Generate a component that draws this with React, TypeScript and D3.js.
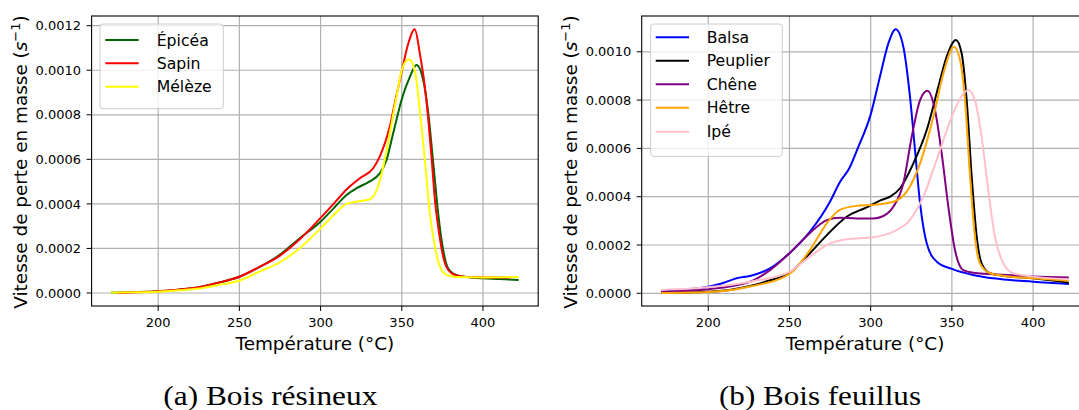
import React from "react";
import * as d3 from "d3";

// ---------- Data (Température °C, vitesse de perte en masse s^-1) ----------
const epiceaT = [171, 185, 200, 212, 225, 237, 250, 262, 275, 287, 300, 308, 316, 322, 330, 336.4, 340.6, 344.7, 350.4, 355, 359.1, 363.2, 366.3, 369.4, 372.4, 375.5, 378.6, 383.7, 390, 400, 410, 422];
const epiceaV = [0.000002, 0.000004, 0.000008, 0.000015, 0.000026, 0.000046, 0.000073, 0.000115, 0.000172, 0.000245, 0.00032, 0.00038, 0.00044, 0.00047, 0.0005, 0.000537, 0.000597, 0.000717, 0.00088, 0.00097, 0.001024, 0.000956, 0.000807, 0.000582, 0.000358, 0.000193, 0.00011, 0.00008, 0.000072, 0.000066, 0.000063, 0.000058];

const sapinT = [175, 190, 200, 212, 225, 237, 250, 262, 275, 287, 300, 308, 316, 324.2, 332.4, 336.4, 342.6, 346.5, 350.4, 354, 358, 361.1, 364.2, 366.3, 368.3, 370.4, 373, 375.5, 378.6, 383, 390, 400, 417];
const sapinV = [0, 0.000004, 0.000008, 0.000015, 0.000026, 0.000046, 0.000073, 0.000116, 0.000168, 0.00024, 0.000337, 0.0004, 0.000465, 0.000515, 0.00056, 0.000612, 0.000747, 0.00088, 0.001009, 0.00112, 0.001184, 0.001076, 0.000926, 0.00078, 0.000612, 0.000418, 0.000268, 0.000163, 0.000103, 0.00008, 0.000072, 0.00007, 0.000069];

const melezeT = [171, 185, 200, 212, 225, 237, 250, 262, 275, 287, 300, 308, 316, 322, 330, 334.5, 338.6, 342.6, 346.7, 350.4, 354.4, 358.1, 361.1, 364.2, 367.3, 370.4, 373.5, 377.6, 383.7, 400, 422];
const melezeV = [0.000002, 0.000003, 0.000006, 0.000012, 0.00002, 0.000036, 0.000055, 0.000095, 0.000138, 0.0002, 0.00029, 0.00035, 0.0004, 0.00041, 0.00042, 0.000462, 0.000567, 0.000717, 0.00088, 0.00101, 0.001049, 0.000994, 0.00082, 0.000597, 0.000359, 0.000208, 0.000118, 0.000081, 0.000072, 0.00007, 0.000072];

const balsaT = [171, 185, 200, 210, 217.5, 225.7, 238, 250, 262.6, 275, 281, 287, 292, 300.2, 305.7, 310.9, 315.4, 320.1, 324.2, 327.3, 330.4, 334.5, 340.7, 350.4, 363, 375.5, 400, 422];
const balsaV = [0.000007, 0.000015, 0.000027, 0.000045, 0.000062, 0.000072, 0.000103, 0.000166, 0.000255, 0.00038, 0.00046, 0.00052, 0.0006, 0.000745, 0.000897, 0.001035, 0.001093, 0.001021, 0.000814, 0.000593, 0.000373, 0.000207, 0.000131, 0.0001, 0.000076, 0.000062, 0.000048, 0.000039];

const peuplierT = [171, 200, 225.7, 238, 250, 262.6, 273, 285.2, 297.5, 306, 312, 318.1, 326.3, 334.5, 341.7, 346.8, 352.5, 356, 359.1, 362.2, 365.3, 368.3, 373.5, 385, 400, 422];
const peuplierV = [0.000002, 0.000006, 0.00003, 0.000054, 0.000084, 0.000166, 0.000241, 0.000317, 0.000356, 0.000385, 0.0004, 0.000435, 0.000538, 0.000676, 0.000856, 0.00098, 0.001049, 0.000994, 0.0008, 0.000483, 0.000234, 0.000124, 0.000083, 0.00007, 0.000062, 0.000044];

const cheneT = [171, 200, 225.7, 238, 250, 262.6, 273, 281.1, 291.3, 301.6, 307.8, 314, 320.1, 325.3, 330.4, 334.9, 339.6, 343.7, 347.8, 351.9, 357, 363.2, 383.7, 404, 422];
const cheneV = [0.000007, 0.000017, 0.000048, 0.000096, 0.000166, 0.00025, 0.000303, 0.000313, 0.00031, 0.00031, 0.00032, 0.000359, 0.000455, 0.000649, 0.0008, 0.000839, 0.000759, 0.00058, 0.000359, 0.000179, 0.000096, 0.000085, 0.000076, 0.000069, 0.000065];

const hetreT = [171, 200, 225.7, 250, 262.6, 273, 281, 291.3, 301.6, 314, 322.2, 330.4, 338.6, 344.8, 351.3, 355, 358.1, 361.2, 364.2, 367.3, 373.5, 385, 400, 422];
const hetreV = [0.000001, 0.000005, 0.000028, 0.00008, 0.000179, 0.00029, 0.000345, 0.000362, 0.000366, 0.000379, 0.000421, 0.000538, 0.000731, 0.000911, 0.001021, 0.000966, 0.0008, 0.000483, 0.000234, 0.000124, 0.000083, 0.00007, 0.000062, 0.000052];

const ipeT = [171, 200, 225.7, 250, 262.6, 273, 285.2, 301.6, 314, 324.2, 332.4, 340.6, 350.8, 356, 360.1, 364.2, 368.3, 372.4, 376.5, 381.7, 387.8, 400, 422];
const ipeV = [0.000014, 0.000025, 0.000048, 0.000089, 0.000152, 0.0002, 0.000224, 0.000232, 0.000255, 0.000304, 0.0004, 0.000552, 0.000745, 0.000817, 0.000842, 0.0008, 0.000649, 0.000428, 0.000234, 0.000124, 0.000083, 0.000069, 0.000058];

const xTicks = [200, 250, 300, 350, 400];
const yTicksLeft = [0, 0.0002, 0.0004, 0.0006, 0.0008, 0.001, 0.0012];
const yTicksRight = [0, 0.0002, 0.0004, 0.0006, 0.0008, 0.001];

const resineuxNames = ["Épicéa", "Sapin", "Mélèze"];
const feuillusNames = ["Balsa", "Peuplier", "Chêne", "Hêtre", "Ipé"];

type Series = { name: string; t: number[]; v: number[]; color: string };

const leftSeries: Series[] = [
  { name: resineuxNames[0], t: epiceaT, v: epiceaV, color: "#006400" },
  { name: resineuxNames[1], t: sapinT, v: sapinV, color: "#ff0000" },
  { name: resineuxNames[2], t: melezeT, v: melezeV, color: "#ffff00" },
];
const rightSeries: Series[] = [
  { name: feuillusNames[0], t: balsaT, v: balsaV, color: "#0000ff" },
  { name: feuillusNames[1], t: peuplierT, v: peuplierV, color: "#000000" },
  { name: feuillusNames[2], t: cheneT, v: cheneV, color: "#800080" },
  { name: feuillusNames[3], t: hetreT, v: hetreV, color: "#ffa500" },
  { name: feuillusNames[4], t: ipeT, v: ipeV, color: "#ffc0cb" },
];

const FONT = "DejaVu Sans, sans-serif";

type PanelProps = {
  x0: number;
  x1: number;
  yDomain: [number, number];
  yTicks: number[];
  series: Series[];
  legend: { x: number; y: number; w: number; rowY: number[]; lineX0: number; lineX1: number; textX: number };
  yLabelX: number;
  caption: string;
  captionX: number;
  captionW: number;
};

function Panel(p: PanelProps) {
  const top = 16;
  const bottom = 306;
  const x = d3.scaleLinear().domain([159, 434]).range([p.x0, p.x1]);
  const y = d3.scaleLinear().domain(p.yDomain).range([bottom, top]);
  const line = d3
    .line<[number, number]>()
    .x((d) => x(d[0]))
    .y((d) => y(d[1]))
    .curve(d3.curveMonotoneX);
  const fmt = d3.format(".4f");
  const midX = (p.x0 + p.x1) / 2;
  const midY = (top + bottom) / 2;
  const lg = p.legend;
  const lgH = lg.rowY[lg.rowY.length - 1] - lg.rowY[0] + 38;
  return (
    <g>
      {/* grid */}
      {xTicks.map((t) => (
        <line key={"gx" + t} x1={x(t)} x2={x(t)} y1={top} y2={bottom} stroke="#b0b0b0" strokeWidth={1.2} />
      ))}
      {p.yTicks.map((t) => (
        <line key={"gy" + t} x1={p.x0} x2={p.x1} y1={y(t)} y2={y(t)} stroke="#b0b0b0" strokeWidth={1.2} />
      ))}
      {/* curves */}
      {p.series.map((s) => (
        <path
          key={s.name}
          d={line(s.t.map((t, i) => [t, s.v[i]] as [number, number])) || ""}
          fill="none"
          stroke={s.color}
          strokeWidth={2}
          strokeLinejoin="round"
        />
      ))}
      {/* frame */}
      <rect x={p.x0} y={top} width={p.x1 - p.x0} height={bottom - top} fill="none" stroke="#000" strokeWidth={1.1} />
      {/* x ticks */}
      {xTicks.map((t) => (
        <g key={"tx" + t}>
          <line x1={x(t)} x2={x(t)} y1={bottom} y2={bottom + 5} stroke="#000" strokeWidth={1} />
          <text x={x(t)} y={326.5} textAnchor="middle" fontFamily={FONT} fontSize={13} fill="#000">
            {t}
          </text>
        </g>
      ))}
      {/* y ticks */}
      {p.yTicks.map((t) => (
        <g key={"ty" + t}>
          <line x1={p.x0 - 5} x2={p.x0} y1={y(t)} y2={y(t)} stroke="#000" strokeWidth={1} />
          <text x={p.x0 - 10.5} y={y(t)} dy="0.36em" textAnchor="end" fontFamily={FONT} fontSize={13} fill="#000">
            {fmt(t)}
          </text>
        </g>
      ))}
      {/* axis labels */}
      <text x={midX} y={350} textAnchor="middle" fontFamily={FONT} fontSize={18.4} fill="#000">
        Température (°C)
      </text>
      <text
        transform={`translate(${p.yLabelX},${midY + 1}) rotate(-90)`}
        textAnchor="middle"
        fontFamily={FONT}
        fontSize={18.4}
        fill="#000"
      >
        Vitesse de perte en masse (<tspan fontStyle="italic">s</tspan>
        <tspan dy={-7} fontSize={13}>−1</tspan>
        <tspan dy={7}>)</tspan>
      </text>
      {/* legend */}
      <rect x={lg.x} y={lg.y} width={lg.w} height={lgH} rx={3} fill="#fff" fillOpacity={0.8} stroke="#cccccc" strokeWidth={1} />
      {p.series.map((s, i) => (
        <g key={"lg" + s.name}>
          <line x1={lg.lineX0} x2={lg.lineX1} y1={lg.rowY[i]} y2={lg.rowY[i]} stroke={s.color} strokeWidth={2} />
          <text x={lg.textX} y={lg.rowY[i]} dy="0.36em" fontFamily={FONT} fontSize={15.7} fill="#000">
            {s.name}
          </text>
        </g>
      ))}
      {/* caption */}
      <text
        x={p.captionX}
        y={405}
        textAnchor="middle"
        fontFamily="Liberation Serif, serif"
        fontSize={27}
        textLength={p.captionW}
        lengthAdjust="spacingAndGlyphs"
        fill="#000"
      >
        {p.caption}
      </text>
    </g>
  );
}

export default function App() {
  return (
    <svg
      width={1079}
      height={410}
      viewBox="0 0 1079 410"
      style={{ position: "absolute", left: 0, top: 0, background: "#fff" }}
    >
      <rect x={0} y={0} width={1079} height={410} fill="#fff" />
      <Panel
        x0={91.6}
        x1={538.2}
        yDomain={[-0.0000584, 0.0012435]}
        yTicks={yTicksLeft}
        series={leftSeries}
        legend={{ x: 100, y: 24, w: 123.3, rowY: [40, 63.3, 86.7], lineX0: 105.3, lineX1: 138.7, textX: 156.7 }}
        yLabelX={27}
        caption="(a) Bois résineux"
        captionX={270.3}
        captionW={214}
      />
      <Panel
        x0={641.7}
        x1={1088.3}
        yDomain={[-0.0000526, 0.0011482]}
        yTicks={yTicksRight}
        series={rightSeries}
        legend={{ x: 650.7, y: 24, w: 131.6, rowY: [37.3, 60.7, 84.3, 107.7, 131.7], lineX0: 655.7, lineX1: 689, textX: 706.7 }}
        yLabelX={577}
        caption="(b) Bois feuillus"
        captionX={820}
        captionW={202}
      />
    </svg>
  );
}
